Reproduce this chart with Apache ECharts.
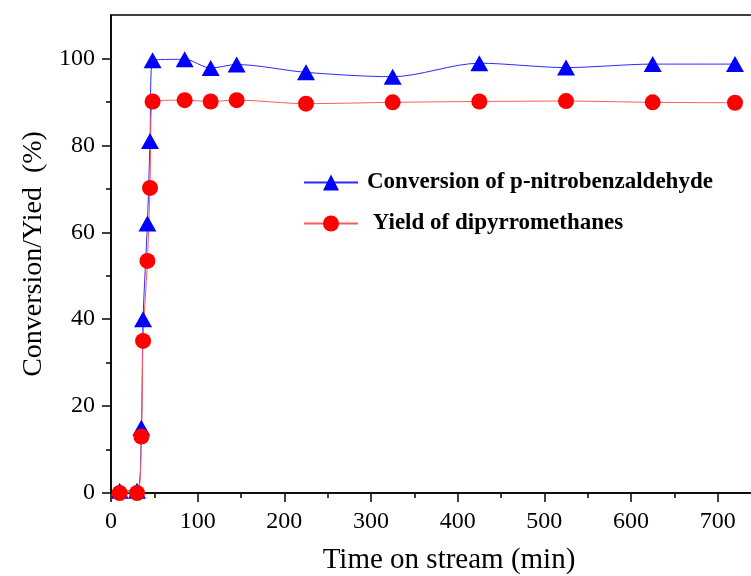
<!DOCTYPE html>
<html><head><meta charset="utf-8">
<script src="https://cdn.jsdelivr.net/npm/echarts@6/dist/echarts.min.js"></script>
<style>html,body{margin:0;padding:0;background:#fff}#c{width:751px;height:576px}</style>
</head><body><div id="c"></div>
<script>
// Data
const timeMin = [10, 30, 35, 37, 42, 45, 48, 85, 115, 145, 225, 325, 425, 525, 625, 720];
const conversion = [0.5, 0.5, 15, 40, 62, 81, 99.6, 99.8, 97.8, 98.6, 96.8, 95.8, 98.9, 97.9, 98.7, 98.7];
const yieldVals = [0, 0, 13, 35, 53.4, 70.2, 90.1, 90.4, 90.1, 90.4, 89.6, 89.9, 90.1, 90.2, 89.9, 89.8];
const seriesNames = ['Conversion of p-nitrobenzaldehyde', ' Yield of dipyrromethanes'];
const yMajorTicks = [0, 20, 40, 60, 80, 100];
const yMinorTicks = [10, 30, 50, 70, 90];

const font = "'Liberation Serif', 'Times New Roman', serif";
const pairs = (xs, ys) => xs.map((x, i) => [x, ys[i]]);

const chart = echarts.init(document.getElementById('c'), null, {renderer: 'canvas'});
chart.setOption({
  backgroundColor: '#fff',
  animation: false,
  grid: {left: 111, width: 676, top: 15, height: 478, outerBoundsMode: 'none', containLabel: false,
    show: true, borderColor: '#000', borderWidth: 1.5, backgroundColor: 'transparent'},
  legend: {
    orient: 'vertical', left: 303, top: 171, padding: 0,
    itemWidth: 54, itemHeight: 20, itemGap: 18,
    textStyle: {fontFamily: font, fontWeight: 'bold', fontSize: 23, color: '#000', padding: [0, 0, 0, 4]},
    data: seriesNames
  },
  xAxis: {
    type: 'value', min: 0, max: 780, interval: 100,
    name: 'Time on stream (min)', nameLocation: 'middle', nameGap: 53,
    nameTextStyle: {fontFamily: font, fontSize: 29, color: '#000'},
    axisLine: {lineStyle: {color: '#000', width: 1.5}},
    axisTick: {length: 9, lineStyle: {color: '#000', width: 1.5}},
    minorTick: {show: true, splitNumber: 2, length: 5, lineStyle: {color: '#000', width: 1.5}},
    axisLabel: {fontFamily: font, fontSize: 24, color: '#000', margin: 17, showMaxLabel: false},
    splitLine: {show: false}
  },
  yAxis: [{
    type: 'value', min: 0, max: 110, interval: 10,
    name: 'Conversion/Yied  (%)', nameLocation: 'middle', nameGap: 61,
    nameTextStyle: {fontFamily: font, fontSize: 28, color: '#000'},
    axisLine: {lineStyle: {color: '#000', width: 1.5}},
    axisTick: {length: 9, customValues: yMajorTicks, lineStyle: {color: '#000', width: 1.5}},
    axisLabel: {fontFamily: font, fontSize: 24, color: '#000', margin: 16, customValues: yMajorTicks},
    splitLine: {show: false}
  }, {
    type: 'value', min: 0, max: 110, interval: 10, position: 'left', offset: 0,
    axisLine: {show: false},
    axisTick: {show: true, length: 5, customValues: yMinorTicks, lineStyle: {color: '#000', width: 1.5}},
    axisLabel: {show: false},
    splitLine: {show: false}
  }],
  series: [{
    name: seriesNames[0], type: 'line', yAxisIndex: 0,
    data: pairs(timeMin, conversion),
    smooth: 0.3,
    symbol: 'triangle', symbolSize: [18, 16],
    itemStyle: {color: '#0000ff'},
    lineStyle: {color: '#2a2aff', width: 1}
  }, {
    name: seriesNames[1], type: 'line', yAxisIndex: 0,
    data: pairs(timeMin, yieldVals),
    smooth: 0.3,
    symbol: 'circle', symbolSize: 16,
    itemStyle: {color: '#ff0000'},
    lineStyle: {color: '#ff5a5a', width: 1}
  }]
});
</script></body></html>
